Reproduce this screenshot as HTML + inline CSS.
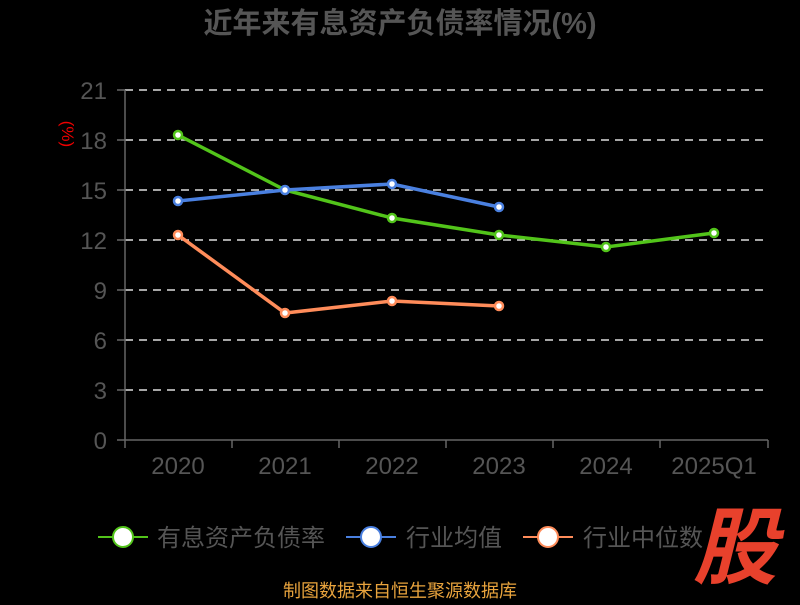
<!DOCTYPE html>
<html><head><meta charset="utf-8"><style>
body{margin:0;background:#000;width:800px;height:600px;overflow:hidden}
svg text{font-family:"Liberation Sans","Noto Sans CJK SC",sans-serif}
</style></head><body>
<svg width="800" height="600" xmlns="http://www.w3.org/2000/svg">
<text x="400" y="33" text-anchor="middle" font-size="29" font-weight="bold" fill="#555">近年来有息资产负债率情况(%)</text>
<g stroke="#ddd" stroke-width="1.5" stroke-dasharray="8,6">
<line x1="125" y1="90" x2="768" y2="90"/><line x1="125" y1="140" x2="768" y2="140"/>
<line x1="125" y1="190" x2="768" y2="190"/><line x1="125" y1="240" x2="768" y2="240"/>
<line x1="125" y1="290" x2="768" y2="290"/><line x1="125" y1="340" x2="768" y2="340"/>
<line x1="125" y1="390" x2="768" y2="390"/></g>
<g stroke="#666" stroke-width="1.5">
<line x1="125" y1="90" x2="125" y2="440"/><line x1="125" y1="440" x2="768" y2="440"/>
<line x1="117" y1="90" x2="125" y2="90"/><line x1="117" y1="140" x2="125" y2="140"/><line x1="117" y1="190" x2="125" y2="190"/><line x1="117" y1="240" x2="125" y2="240"/><line x1="117" y1="290" x2="125" y2="290"/><line x1="117" y1="340" x2="125" y2="340"/><line x1="117" y1="390" x2="125" y2="390"/><line x1="117" y1="440" x2="125" y2="440"/>
<line x1="125" y1="440" x2="125" y2="448"/><line x1="232" y1="440" x2="232" y2="448"/><line x1="339" y1="440" x2="339" y2="448"/><line x1="446" y1="440" x2="446" y2="448"/><line x1="553" y1="440" x2="553" y2="448"/><line x1="660" y1="440" x2="660" y2="448"/><line x1="768" y1="440" x2="768" y2="448"/>
</g>
<g font-size="24" fill="#555" text-anchor="end">
<text x="107" y="99">21</text><text x="107" y="149">18</text><text x="107" y="199">15</text><text x="107" y="249">12</text><text x="107" y="299">9</text><text x="107" y="349">6</text><text x="107" y="399">3</text><text x="107" y="449">0</text></g>
<g font-size="24" fill="#555" text-anchor="middle">
<text x="178" y="474">2020</text><text x="285" y="474">2021</text><text x="392" y="474">2022</text><text x="499" y="474">2023</text><text x="606" y="474">2024</text><text x="714" y="474">2025Q1</text></g>
<text x="70" y="126" font-size="17" fill="#e00" text-anchor="middle" transform="rotate(90 62 126)">(%)</text>
<polyline fill="none" stroke="#52c41a" stroke-width="3.5" points="178,135 285,190 392,218 499,235 606,247 714,233"/>
<polyline fill="none" stroke="#4a80e0" stroke-width="3.5" points="178,201 285,190 392,184 499,207"/>
<polyline fill="none" stroke="#ff8c5a" stroke-width="3.5" points="178,235 285,313 392,301 499,306"/>
<g fill="#fff" stroke-width="2.5">
<g stroke="#52c41a"><circle cx="178" cy="135" r="4"/><circle cx="392" cy="218" r="4"/><circle cx="499" cy="235" r="4"/><circle cx="606" cy="247" r="4"/><circle cx="714" cy="233" r="4"/></g>
<g stroke="#4a80e0"><circle cx="178" cy="201" r="4"/><circle cx="285" cy="190" r="4"/><circle cx="392" cy="184" r="4"/><circle cx="499" cy="207" r="4"/></g>
<g stroke="#ff8c5a"><circle cx="178" cy="235" r="4"/><circle cx="285" cy="313" r="4"/><circle cx="392" cy="301" r="4"/><circle cx="499" cy="306" r="4"/></g>
</g>
<g font-size="24" fill="#555">
<line x1="98" y1="537" x2="148" y2="537" stroke="#52c41a" stroke-width="2"/><circle cx="123" cy="537" r="10" fill="#fff" stroke="#52c41a" stroke-width="2"/>
<text x="157" y="546">有息资产负债率</text>
<line x1="346" y1="537" x2="396" y2="537" stroke="#4a80e0" stroke-width="2"/><circle cx="371" cy="537" r="10" fill="#fff" stroke="#4a80e0" stroke-width="2"/>
<text x="406" y="546">行业均值</text>
<line x1="523" y1="537" x2="573" y2="537" stroke="#ff8c5a" stroke-width="2"/><circle cx="548" cy="537" r="10" fill="#fff" stroke="#ff8c5a" stroke-width="2"/>
<text x="583" y="546">行业中位数</text>
</g>
<text x="735" y="577" font-size="84" font-weight="bold" font-style="italic" fill="#e8412c" text-anchor="middle">股</text>
<text x="400" y="597" font-size="18" fill="#e8a33d" text-anchor="middle">制图数据来自恒生聚源数据库</text>
</svg>
</body></html>
